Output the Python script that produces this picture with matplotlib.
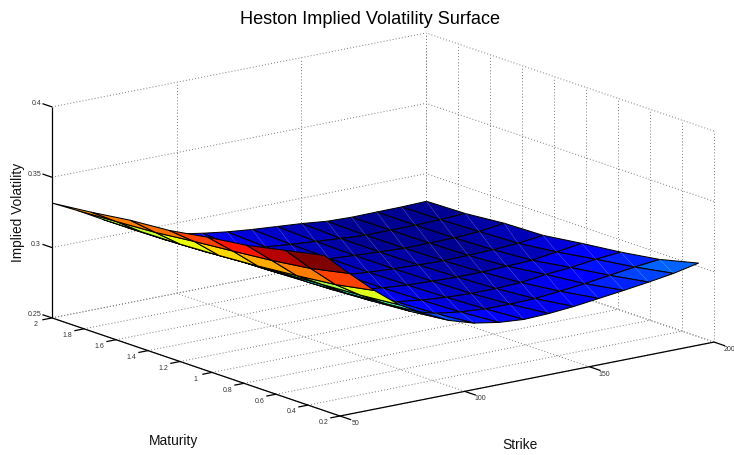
import numpy as np
import matplotlib
matplotlib.use("Agg")
import matplotlib.pyplot as plt
from mpl_toolkits.mplot3d import proj3d
from mpl_toolkits.mplot3d.art3d import Poly3DCollection

plt.rcParams['font.family'] = ['Liberation Sans', 'DejaVu Sans']

strikes = [50, 60, 70, 80, 90, 100, 110, 120, 130, 140, 150, 160, 170, 180, 190, 200]
maturities = [0.3, 0.543, 0.786, 1.029, 1.271, 1.514, 1.757, 2.0]
iv = [
    [.3606, .3548, .3490, .3453, .3408, .3386, .3349, .3319],
    [.3443, .3385, .3348, .3320, .3295, .3265, .3248, .3232],
    [.3287, .3235, .3205, .3179, .3160, .3146, .3140, .3135],
    [.3150, .3125, .3108, .3092, .3076, .3058, .3046, .3040],
    [.3054, .3030, .3010, .2995, .2985, .2978, .2975, .2974],
    [.2969, .2940, .2920, .2905, .2900, .2900, .2910, .2925],
    [.2915, .2890, .2878, .2870, .2868, .2870, .2880, .2895],
    [.2885, .2865, .2855, .2848, .2846, .2848, .2857, .2870],
    [.2871, .2852, .2840, .2833, .2830, .2832, .2840, .2852],
    [.2878, .2850, .2832, .2825, .2820, .2820, .2826, .2838],
    [.2893, .2855, .2832, .2820, .2812, .2810, .2812, .2824],
    [.2915, .2872, .2840, .2820, .2807, .2802, .2800, .2805],
    [.2937, .2891, .2862, .2827, .2810, .2803, .2801, .2799],
    [.2961, .2915, .2876, .2834, .2815, .2805, .2801, .2801],
    [.2988, .2939, .2900, .2858, .2826, .2815, .2806, .2802],
    [.3026, .2958, .2916, .2884, .2847, .2839, .2814, .2807],
]
strike_ticks = [50, 100, 150, 200]
maturity_ticks = [0.2, 0.4, 0.6, 0.8, 1.0, 1.2, 1.4, 1.6, 1.8, 2.0]
maturity_labels = ['0.2', '0.4', '0.6', '0.8', '1', '1.2', '1.4', '1.6', '1.8', '2']
vol_ticks = [0.25, 0.30, 0.35, 0.40]
vol_labels = ['0.25', '0.3', '0.35', '0.4']
color_stops_iv = [.2800, .2985, .3287, .3349, .3490, .3606]
color_stops_level = [.02, .22, .62, .735, .875, 1.0]

W, H = 734, 455
fig = plt.figure(figsize=(W / 100, H / 100), dpi=100, facecolor='white')
ax = fig.add_axes([0.1, 0.0, 500 / W, 500 / H], projection='3d', proj_type='ortho')
ax.computed_zorder = False
ax.set_xlim(50, 200, view_margin=0)
ax.set_ylim(0.2, 2, view_margin=0)
ax.set_zlim(0.25, 0.4, view_margin=0)
ax.set_xticks([])
ax.set_yticks([])
ax.set_zticks([])
ax.view_init(elev=15.04, azim=-127.3)
aspect = (470, 475, 218.4)
ax.set_box_aspect(aspect)
ax.set_axis_off()


def to_px(x, y, z):
    X, Y, _ = proj3d.proj_transform(x, y, z, ax.get_proj())
    return np.array(ax.transData.transform((X, Y)))


# fit the orthographic box to the figure: scale, then shift
fig.canvas.draw()
span = np.linalg.norm(to_px(200, .2, .25) - to_px(50, .2, .25))
ax.set_box_aspect(aspect, zoom=np.hypot(374, 74) / span)
fig.canvas.draw()
d = np.array([340, H - 416]) - to_px(50, .2, .25)
pos = ax.get_position()
ax.set_position([pos.x0 + d[0] / W, pos.y0 + d[1] / H, pos.width, pos.height])
fig.canvas.draw()


def tick_label(x, y, z, text, dx, dy, ha='center'):
    p = to_px(x, y, z)
    fig.text((p[0] + dx) / W, (p[1] - dy) / H, text, ha=ha, va='center',
             fontsize=5.0, color='#333333')


# grid
gs = dict(color='#808080', lw=0.72, ls=(0, (1, 2.1)), zorder=1, clip_on=False)
kmin, kmax = strike_ticks[0], strike_ticks[-1]
mmin, mmax = maturity_ticks[0], maturity_ticks[-1]
zmin, zmax = vol_ticks[0], vol_ticks[-1]
for k in strike_ticks:
    ax.plot([k, k], [mmin, mmax], [zmin, zmin], **gs)
    ax.plot([k, k], [mmax, mmax], [zmin, zmax], **gs)
for m in maturity_ticks:
    ax.plot([kmin, kmax], [m, m], [zmin, zmin], **gs)
    ax.plot([kmax, kmax], [m, m], [zmin, zmax], **gs)
for z in vol_ticks:
    ax.plot([kmin, kmax], [mmax, mmax], [z, z], **gs)
    ax.plot([kmax, kmax], [mmin, mmax], [z, z], **gs)

# axes and ticks
ls = dict(color='black', lw=0.9, zorder=2, solid_capstyle='butt', clip_on=False)
ax.plot([kmin, kmax], [mmin, mmin], [zmin, zmin], **ls)
ax.plot([kmin, kmin], [mmin, mmax], [zmin, zmin], **ls)
ax.plot([kmin, kmin], [mmax, mmax], [zmin, zmax], **ls)
for k in strike_ticks:
    ax.plot([k, k], [mmin, mmin - .07], [zmin, zmin], **ls)
    tick_label(k, mmin, zmin, str(k), 15.3, 7.3)
for m, t in zip(maturity_ticks, maturity_labels):
    ax.plot([kmin, kmin - 3.9], [m, m], [zmin, zmin], **ls)
    tick_label(kmin, m, zmin, t, -16.5, 6.8)
for z, t in zip(vol_ticks, vol_labels):
    ax.plot([kmin, kmin], [mmax, mmax + .06], [z, z], **ls)
    tick_label(kmin, mmax, z, t, -11, -3, ha='right')

# surface, painted far to near
K = np.array(strikes, float)
M = np.array(maturities, float)
Z = np.array(iv, float)
cmap = matplotlib.colormaps['jet'].resampled(64)
order = 10
for i in range(len(K) - 2, -1, -1):
    for j in range(len(M) - 2, -1, -1):
        quad = [(K[i], M[j], Z[i, j]), (K[i + 1], M[j], Z[i + 1, j]),
                (K[i + 1], M[j + 1], Z[i + 1, j + 1]), (K[i], M[j + 1], Z[i, j + 1])]
        level = np.interp(Z[i, j], color_stops_iv, color_stops_level)
        face = Poly3DCollection([quad], facecolors=[cmap(level)],
                                edgecolors='black', linewidths=0.75, zorder=order)
        ax.add_collection3d(face, autolim=False)
        face.set_clip_on(False)
        order += 1
        if i >= 4:
            ax.plot([K[i], K[i + 1]], [M[j], M[j + 1]], [Z[i, j], Z[i + 1, j + 1]],
                    color='white', lw=0.4, alpha=0.3, zorder=order, clip_on=False)
            order += 1

fig.text(369.5 / W, 1 - 19 / H, 'Heston Implied Volatility Surface', ha='center', va='center',
         fontsize=13.05, color='black')
fig.text(174 / W, 1 - 441 / H, 'Maturity', ha='center', va='center', fontsize=9.9, color='#111111')
fig.text(520 / W, 1 - 445 / H, 'Strike', ha='center', va='center', fontsize=9.9, color='#111111')
fig.text(18 / W, 1 - 212 / H, 'Implied Volatility', ha='center', va='center', rotation=90,
         fontsize=9.9, color='#111111')

fig.savefig('out.png', dpi=100, facecolor='white')
